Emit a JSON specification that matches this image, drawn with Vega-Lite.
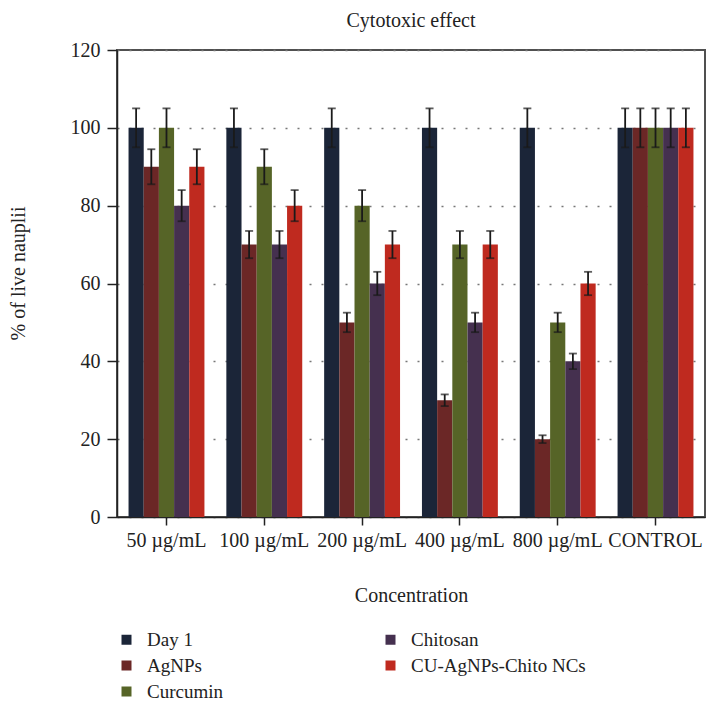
{
  "$schema": "https://vega.github.io/schema/vega-lite/v6.json",
  "width": 588,
  "height": 467,
  "autosize": {"type": "none"},
  "padding": {"left": 117, "top": 50, "right": 6, "bottom": 186},
  "background": "white",
  "title": {"text": "Cytotoxic effect", "fontSize": 20, "font": "Liberation Serif", "fontWeight": "normal", "color": "#222", "offset": 9},
  "config": {
    "font": "Liberation Serif",
    "view": {"stroke": "#505050", "strokeWidth": 2},
    "axis": {"labelFont": "Liberation Serif", "titleFont": "Liberation Serif"},
    "legend": {"labelFont": "Liberation Serif", "titleFont": "Liberation Serif"}
  },
  "data": {"values": [
    {"group": "50 µg/mL", "series": "Day 1", "value": 100, "lo": 95, "hi": 105},
    {"group": "50 µg/mL", "series": "AgNPs", "value": 90, "lo": 85.5, "hi": 94.5},
    {"group": "50 µg/mL", "series": "Curcumin", "value": 100, "lo": 95, "hi": 105},
    {"group": "50 µg/mL", "series": "Chitosan", "value": 80, "lo": 76, "hi": 84},
    {"group": "50 µg/mL", "series": "CU-AgNPs-Chito NCs", "value": 90, "lo": 85.5, "hi": 94.5},
    {"group": "100 µg/mL", "series": "Day 1", "value": 100, "lo": 95, "hi": 105},
    {"group": "100 µg/mL", "series": "AgNPs", "value": 70, "lo": 66.5, "hi": 73.5},
    {"group": "100 µg/mL", "series": "Curcumin", "value": 90, "lo": 85.5, "hi": 94.5},
    {"group": "100 µg/mL", "series": "Chitosan", "value": 70, "lo": 66.5, "hi": 73.5},
    {"group": "100 µg/mL", "series": "CU-AgNPs-Chito NCs", "value": 80, "lo": 76, "hi": 84},
    {"group": "200 µg/mL", "series": "Day 1", "value": 100, "lo": 95, "hi": 105},
    {"group": "200 µg/mL", "series": "AgNPs", "value": 50, "lo": 47.5, "hi": 52.5},
    {"group": "200 µg/mL", "series": "Curcumin", "value": 80, "lo": 76, "hi": 84},
    {"group": "200 µg/mL", "series": "Chitosan", "value": 60, "lo": 57, "hi": 63},
    {"group": "200 µg/mL", "series": "CU-AgNPs-Chito NCs", "value": 70, "lo": 66.5, "hi": 73.5},
    {"group": "400 µg/mL", "series": "Day 1", "value": 100, "lo": 95, "hi": 105},
    {"group": "400 µg/mL", "series": "AgNPs", "value": 30, "lo": 28.5, "hi": 31.5},
    {"group": "400 µg/mL", "series": "Curcumin", "value": 70, "lo": 66.5, "hi": 73.5},
    {"group": "400 µg/mL", "series": "Chitosan", "value": 50, "lo": 47.5, "hi": 52.5},
    {"group": "400 µg/mL", "series": "CU-AgNPs-Chito NCs", "value": 70, "lo": 66.5, "hi": 73.5},
    {"group": "800 µg/mL", "series": "Day 1", "value": 100, "lo": 95, "hi": 105},
    {"group": "800 µg/mL", "series": "AgNPs", "value": 20, "lo": 19, "hi": 21},
    {"group": "800 µg/mL", "series": "Curcumin", "value": 50, "lo": 47.5, "hi": 52.5},
    {"group": "800 µg/mL", "series": "Chitosan", "value": 40, "lo": 38, "hi": 42},
    {"group": "800 µg/mL", "series": "CU-AgNPs-Chito NCs", "value": 60, "lo": 57, "hi": 63},
    {"group": "CONTROL", "series": "Day 1", "value": 100, "lo": 95, "hi": 105},
    {"group": "CONTROL", "series": "AgNPs", "value": 100, "lo": 95, "hi": 105},
    {"group": "CONTROL", "series": "Curcumin", "value": 100, "lo": 95, "hi": 105},
    {"group": "CONTROL", "series": "Chitosan", "value": 100, "lo": 95, "hi": 105},
    {"group": "CONTROL", "series": "CU-AgNPs-Chito NCs", "value": 100, "lo": 95, "hi": 105}
  ]},
  "encoding": {
    "x": {
      "field": "group", "type": "nominal", "sort": null,
      "scale": {"paddingInner": 0.224, "paddingOuter": 0.118},
      "axis": {
        "title": "Concentration", "labelAngle": 0, "labelFontSize": 20, "labelColor": "#222",
        "titleFontSize": 20, "titleFontWeight": "normal", "titleColor": "#222",
        "titleY": 78, "titleBaseline": "middle",
        "tickSize": 8, "tickColor": "#222", "tickWidth": 1.5, "domainColor": "#222", "domainWidth": 1.5,
        "labelPadding": 5
      }
    },
    "xOffset": {"field": "series", "type": "nominal", "sort": ["Day 1", "AgNPs", "Curcumin", "Chitosan", "CU-AgNPs-Chito NCs"]}
  },
  "layer": [
    {
      "mark": {"type": "bar"},
      "encoding": {
        "y": {
          "field": "value", "type": "quantitative",
          "scale": {"domain": [0, 120]},
          "axis": {
            "title": "% of live nauplii", "values": [0, 20, 40, 60, 80, 100, 120],
            "labelFontSize": 20, "labelColor": "#222", "titleFontSize": 20, "titleFontWeight": "normal", "titleColor": "#222",
            "titleX": -99, "titleY": 223, "titleBaseline": "middle",
            "tickSize": 10, "tickColor": "#222", "tickWidth": 1.5, "domainColor": "#222", "domainWidth": 1.5,
            "labelPadding": 7,
            "grid": true, "gridDash": [2, 10], "gridColor": "#777", "gridWidth": 1.5
          }
        },
        "color": {
          "field": "series", "type": "nominal",
          "scale": {
            "domain": ["Day 1", "AgNPs", "Curcumin", "Chitosan", "CU-AgNPs-Chito NCs"],
            "range": ["#1b2538", "#6b2726", "#566427", "#45304f", "#bf2a1f"]
          },
          "legend": {
            "title": null, "orient": "none", "legendX": 0, "legendY": 580,
            "columns": 2, "columnPadding": 158, "rowPadding": 6,
            "symbolType": "square", "symbolSize": 100, "symbolStrokeWidth": 0,
            "labelFontSize": 19, "labelColor": "#222", "labelOffset": 11, "labelLimit": 300
          }
        }
      }
    },
    {
      "mark": {"type": "rule", "color": "#1a1a1a", "strokeWidth": 1.8},
      "encoding": {
        "y": {"field": "lo", "type": "quantitative"},
        "y2": {"field": "hi"}
      }
    },
    {
      "mark": {"type": "tick", "color": "#1a1a1a", "thickness": 1.8, "size": 8},
      "encoding": {"y": {"field": "lo", "type": "quantitative"}}
    },
    {
      "mark": {"type": "tick", "color": "#1a1a1a", "thickness": 1.8, "size": 8},
      "encoding": {"y": {"field": "hi", "type": "quantitative"}}
    }
  ]
}
